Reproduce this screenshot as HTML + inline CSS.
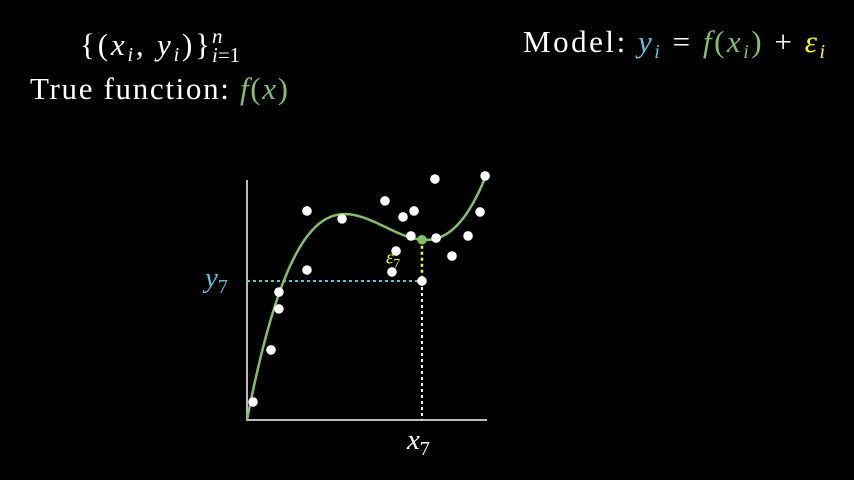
<!DOCTYPE html>
<html><head><meta charset="utf-8"><style>
html,body{margin:0;padding:0;background:#000;}
svg{display:block}
text{font-family:"Liberation Serif",serif;fill:#fff;}
.i{font-style:italic}
</style></head><body>
<svg id="chart" width="854" height="480" viewBox="0 0 854 480">
<text x="80" y="55" font-size="31" textLength="130" lengthAdjust="spacing">{(<tspan class="i">x</tspan><tspan font-size="20" dy="6" class="i">i</tspan><tspan dy="-6">, </tspan><tspan class="i">y</tspan><tspan font-size="20" dy="6" class="i">i</tspan><tspan dy="-6">)}</tspan></text>
<text x="212" y="62" font-size="21"><tspan class="i">i</tspan>=1</text>
<text x="212" y="43" font-size="21" class="i">n</text>
<text x="30" y="99" font-size="31" textLength="258" lengthAdjust="spacing">True function:  <tspan fill="#83c167" class="i">f</tspan><tspan fill="#83c167">(</tspan><tspan fill="#83c167" class="i">x</tspan><tspan fill="#83c167">)</tspan></text>
<text x="523" y="52" font-size="31" textLength="302" lengthAdjust="spacing">Model:  <tspan fill="#58c4dd" class="i">y</tspan><tspan fill="#58c4dd" font-size="20" dy="6" class="i">i</tspan><tspan dy="-6">  =  </tspan><tspan fill="#83c167" class="i">f</tspan><tspan fill="#83c167">(</tspan><tspan fill="#83c167" class="i">x</tspan><tspan fill="#83c167" font-size="20" dy="6" class="i">i</tspan><tspan fill="#83c167" dy="-6">)</tspan><tspan>  +  </tspan><tspan fill="#ffff00" class="i">ε</tspan><tspan fill="#ffff00" font-size="20" dy="6" class="i">i</tspan></text>
<g id="plot"></g>
</svg>
<script>
const xs = [0.25,1.0,1.33,1.33,2.5,2.5,3.96,5.75,6.04,6.21,6.5,6.96,6.83,7.29,7.88,7.83,8.54,9.21,9.71,9.92];
const ys = [0.75,2.92,4.63,5.33,8.71,6.25,8.38,9.13,6.17,7.04,8.46,8.71,7.67,5.79,7.58,10.04,6.83,7.67,8.67,10.17];
const coef = [0.0564,-0.97544,5.14368];
const highlightIndex = 13;
const X0=247,X1=487,Y0=420,Y1=180,DMAX=10;
const sx=v=>X0+v*(X1-X0)/DMAX, sy=v=>Y0-v*(Y0-Y1)/DMAX;
const f=x=>coef[0]*x*x*x+coef[1]*x*x+coef[2]*x;
const g=document.getElementById('plot'),NS='http://www.w3.org/2000/svg';
function mk(t,a){const e=document.createElementNS(NS,t);for(const k in a)e.setAttribute(k,a[k]);g.appendChild(e);return e;}
let e;
e=mk('line',{x1:X0,y1:Y1,x2:X0,y2:Y0+1,stroke:'#bbb','stroke-width':2});


e=mk('line',{x1:X0-1,y1:Y0,x2:X1,y2:Y0,stroke:'#bbb','stroke-width':2});


const hx=xs[highlightIndex],hy=ys[highlightIndex];
e=mk('line',{x1:X0,y1:sy(hy),x2:sx(hx),y2:sy(hy),stroke:'#58c4dd','stroke-width':2,'stroke-dasharray':'3 3'});


e=mk('line',{x1:sx(hx),y1:sy(hy),x2:sx(hx),y2:Y0,stroke:'#fff','stroke-width':2,'stroke-dasharray':'3 3'});


e=mk('line',{x1:sx(hx),y1:sy(f(hx)),x2:sx(hx),y2:sy(hy),stroke:'#ffff00','stroke-width':2.5,'stroke-dasharray':'3 3'});


let d='';for(let i=0;i<=200;i++){const x=i*DMAX/200;d+=(i?'L':'M')+sx(x).toFixed(1)+' '+sy(f(x)).toFixed(1);}
e=mk('path',{d:d,fill:'none',stroke:'#83c167','stroke-width':2.5});


xs.forEach((x,i)=>{const c=mk('circle',{cx:sx(x),cy:sy(ys[i]),r:4.8,fill:'#fff'});

});
e=mk('circle',{cx:sx(hx),cy:sy(f(hx)),r:4.8,fill:'#83c167'});


e=mk('text',{x:sx(hx)-36,y:(sy(f(hx))+sy(hy))/2+3,'font-size':19,fill:'#ffff00'});
e.innerHTML='<tspan font-style="italic" fill="#ffff00">ε</tspan><tspan font-size="13" dy="4" fill="#ffff00">7</tspan>';


e=mk('text',{x:X0-42,y:sy(hy)+6,'font-size':29,fill:'#58c4dd'});
e.innerHTML='<tspan font-style="italic" fill="#58c4dd">y</tspan><tspan font-size="20" dy="6" fill="#58c4dd">7</tspan>';


e=mk('text',{x:sx(hx)-15,y:Y0+29,'font-size':29});
e.innerHTML='<tspan font-style="italic">x</tspan><tspan font-size="20" dy="6">7</tspan>';


</script>
</body></html>
